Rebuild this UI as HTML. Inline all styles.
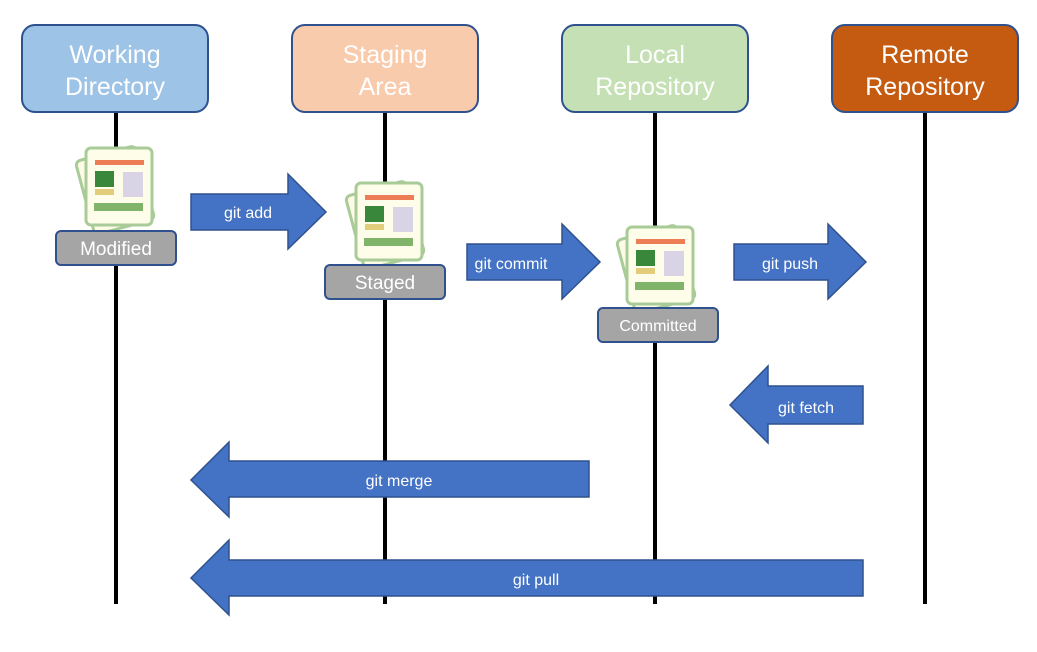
<!DOCTYPE html>
<html><head><meta charset="utf-8"><style>
body{margin:0;background:#fff;}
svg text{font-family:"Liberation Sans",sans-serif;}
</style></head><body>
<svg width="1037" height="647" viewBox="0 0 1037 647" xmlns="http://www.w3.org/2000/svg">
<defs>
<g id="doc">
<rect x="-2" y="4" width="62" height="76" rx="5" fill="#fdfbe6" stroke="#a8cb98" stroke-width="3" transform="rotate(-15 30 42)"/>
<rect x="0" y="0" width="66" height="77" rx="5" fill="#fefde9" stroke="#a8cb98" stroke-width="3"/>
<rect x="9" y="12" width="49" height="5" fill="#ed7d55"/>
<rect x="9" y="23" width="19" height="16" fill="#38873a"/>
<rect x="9" y="41" width="19" height="6" fill="#e2cd7a"/>
<rect x="37" y="24" width="20" height="25" fill="#d9d3e6"/>
<rect x="8" y="55" width="49" height="8" fill="#7fb46a"/>
</g>
</defs>
<g stroke="#000" stroke-width="4">
<line x1="116" y1="112" x2="116" y2="604"/>
<line x1="385" y1="112" x2="385" y2="604"/>
<line x1="655" y1="112" x2="655" y2="604"/>
<line x1="925" y1="112" x2="925" y2="604"/>
</g>
<g stroke="#2f528f" stroke-width="2">
<rect x="22" y="25" width="186" height="87" rx="13" fill="#9dc3e6"/>
<rect x="292" y="25" width="186" height="87" rx="13" fill="#f8cbad"/>
<rect x="562" y="25" width="186" height="87" rx="13" fill="#c5e0b4"/>
<rect x="832" y="25" width="186" height="87" rx="13" fill="#c55a11"/>
</g>
<g font-size="25" fill="#fff" text-anchor="middle">
<text x="115" y="63">Working</text><text x="115" y="95">Directory</text>
<text x="385" y="63">Staging</text><text x="385" y="95">Area</text>
<text x="655" y="63">Local</text><text x="655" y="95">Repository</text>
<text x="925" y="63">Remote</text><text x="925" y="95">Repository</text>
</g>
<use href="#doc" x="86" y="148"/>
<use href="#doc" x="356" y="183"/>
<use href="#doc" x="627" y="227"/>
<g stroke="#2f528f" stroke-width="2" fill="#a5a5a5">
<rect x="56" y="231" width="120" height="34" rx="5"/>
<rect x="325" y="265" width="120" height="34" rx="5"/>
<rect x="598" y="308" width="120" height="34" rx="5"/>
</g>
<g fill="#fff" text-anchor="middle">
<text x="116" y="255" font-size="19">Modified</text>
<text x="385" y="289" font-size="19">Staged</text>
<text x="658" y="331" font-size="16">Committed</text>
</g>
<g fill="#4472c4" stroke="#2f528f" stroke-width="1.5">
<polygon points="191,194 288,194 288,174 326,212 288,249 288,230 191,230"/>
<polygon points="467,244 562,244 562,224 600,262 562,299 562,280 467,280"/>
<polygon points="734,244 828,244 828,224 866,262 828,299 828,280 734,280"/>
<polygon points="863,386 768,386 768,366 730,405 768,443 768,424 863,424"/>
<polygon points="589,461 229,461 229,442 191,480 229,517 229,497 589,497"/>
<polygon points="863,560 229,560 229,540 191,578 229,615 229,596 863,596"/>
</g>
<g fill="#fff" font-size="16" text-anchor="middle">
<text x="248" y="218">git add</text>
<text x="511" y="269">git commit</text>
<text x="790" y="269">git push</text>
<text x="806" y="413">git fetch</text>
<text x="399" y="486">git merge</text>
<text x="536" y="585">git pull</text>
</g>
</svg>
</body></html>
